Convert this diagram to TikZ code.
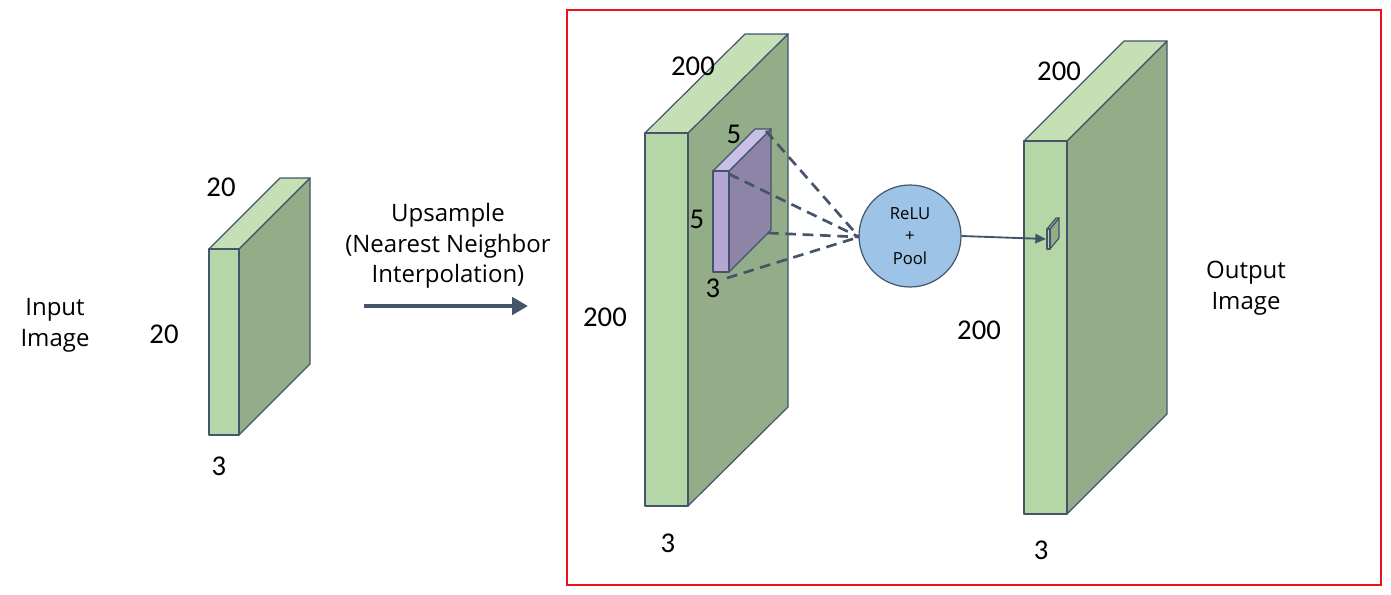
\documentclass[tikz,border=0pt]{standalone}
\usepackage{fontspec}
\setmainfont{Open Sans}
\newfontfamily\numfont{Carlito}
\usetikzlibrary{arrows.meta}
\definecolor{frontg}{HTML}{B5D7A8}
\definecolor{topg}{HTML}{C5E0B4}
\definecolor{sideg}{HTML}{93AD88}
\definecolor{edge}{HTML}{44546A}
\definecolor{frontp}{HTML}{B4A7D6}
\definecolor{topp}{HTML}{C9C0E8}
\definecolor{sidep}{HTML}{8E84A8}
\definecolor{circ}{HTML}{9DC3E6}
\definecolor{redbox}{HTML}{E8141A}
\tikzset{
  face/.style={draw=edge, line width=0.9pt, line join=round},
  num/.style={font=\numfont\fontsize{21.5}{24}\selectfont, inner sep=0pt},
  lab/.style={font=\fontsize{18}{23}\selectfont, align=center, inner sep=0pt},
  dashline/.style={draw=edge, line width=2pt, dash pattern=on 8pt off 5pt},
}
% cuboid: front x1,x2 ; y1 (top), y2 (bottom); offset dx,dy
\newcommand{\cuboid}[9]{%
  \fill[#9,face] (#2,#3) -- ++(#5,#6) -- ++(0,#4-#3) -- (#2,#4) -- cycle;
  \fill[#8,face] (#1,#3) -- ++(#5,#6) -- ++(#2-#1,0) -- (#2,#3) -- cycle;
  \fill[#7,face] (#1,#3) rectangle (#2,#4);
}
\begin{document}
\begin{tikzpicture}[x=0.75pt,y=-0.75pt]
\useasboundingbox (0,0) rectangle (1391,594);
% red frame
\draw[redbox, line width=1.6pt] (567,10) rectangle (1381,585);

% input block
\cuboid{209}{239}{249}{435}{71}{-71}{frontg}{topg}{sideg}
\node[lab] (inlab) at (55,325) {Input\\Image};
\node[num] (in20a) at (221,187) {20};
\node[num] (in20b) at (164,334) {20};
\node[num] (in3) at (219,466) {3};

% upsample arrow
\node[lab] (up) at (448,246) {Upsample\\(Nearest Neighbor\\Interpolation)};
\coordinate (ua) at (364,306);
\coordinate (ub) at (528,306);
\draw[edge, line width=3.6pt, -{Triangle[length=12pt,width=13pt]}] (ua) -- (ub);

% big block 1
\cuboid{645}{688}{133}{506}{100}{-99}{frontg}{topg}{sideg}
\node[num] (b200a) at (693,66) {200};
\node[num] (b200b) at (605,317) {200};
\node[num] (b3) at (668,543) {3};

% purple kernel
\cuboid{713}{729}{171}{272}{42}{-42}{frontp}{topp}{sidep}
\node[num] (k5a) at (734,134) {5};
\node[num] (k5b) at (697,219) {5};
\node[num] (k3) at (713,288) {3};

% relu circle
\node[circle, draw=edge, fill=circ, line width=0.9pt, minimum size=76.5pt, inner sep=0pt,
      font=\fontsize{12.5}{17}\selectfont, align=center] (relu) at (910,236) {ReLU\\+\\Pool};

% dashed connectors
\coordinate (d1) at (766,131);
\coordinate (d2) at (729,174);
\coordinate (d3) at (768,233);
\coordinate (d4) at (727,278);
\coordinate (rin) at (859,237);
\draw[dashline] (d1) -- (rin);
\draw[dashline] (d2) -- (rin);
\draw[dashline] (d3) -- (rin);
\draw[dashline] (d4) -- (rin);

% big block 2
\cuboid{1024}{1067}{141}{514}{100}{-100}{frontg}{topg}{sideg}
\node[num] (c200a) at (1059,71) {200};
\node[num] (c200b) at (979,330) {200};
\node[num] (c3) at (1041,550) {3};
\node[lab] (outlab) at (1246,288) {Output\\Image};

% output pixel
\cuboid{1047}{1050}{229}{249}{9}{-11}{frontg}{sideg}{sideg}
\coordinate (px) at (1046,239);
\draw[edge, line width=1.4pt, -{Triangle[length=8pt,width=7pt]}] (relu.east) -- (px);
\end{tikzpicture}
\end{document}
